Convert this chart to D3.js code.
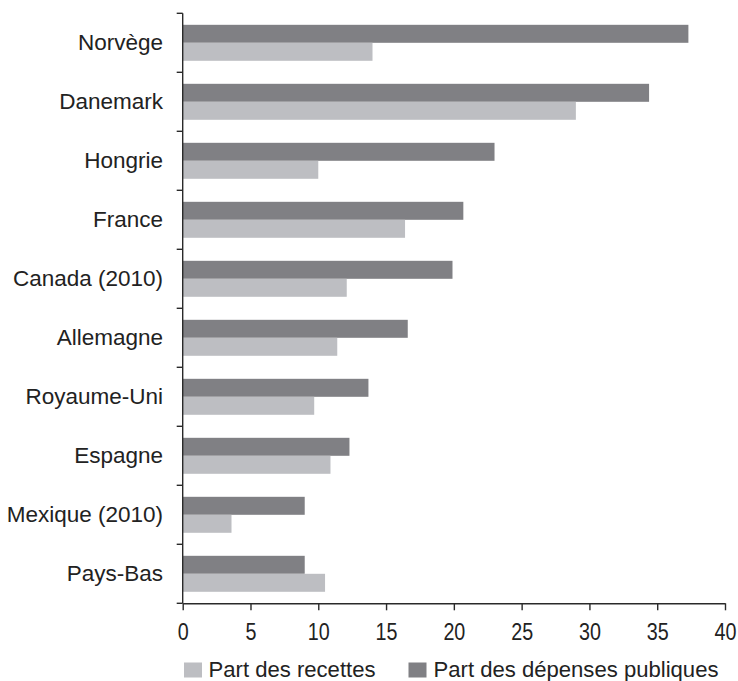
<!DOCTYPE html>
<html>
<head>
<meta charset="utf-8">
<script src="https://cdn.jsdelivr.net/npm/d3@7"></script>
<style>
  html, body { margin: 0; padding: 0; background: #fff; }
  svg { display: block; }
</style>
</head>
<body>
<svg id="chart" width="738" height="681"></svg>
<script>
const categories = ["Norvège", "Danemark", "Hongrie", "France", "Canada (2010)", "Allemagne", "Royaume-Uni", "Espagne", "Mexique (2010)", "Pays-Bas"];
const depenses = [37.3, 34.4, 23.0, 20.7, 19.9, 16.6, 13.7, 12.3, 9.0, 9.0];
const recettes = [14.0, 29.0, 10.0, 16.4, 12.1, 11.4, 9.7, 10.9, 3.6, 10.5];
const xTicks = [0, 5, 10, 15, 20, 25, 30, 35, 40];
const seriesNames = ["Part des recettes", "Part des dépenses publiques"];

const colDark = "#808084";
const colLight = "#bdbec2";
const axisCol = "#2a2a2a";
const font = "'Liberation Sans', Arial, sans-serif";

const svg = d3.select("#chart");
svg.append("rect").attr("width", 738).attr("height", 681).attr("fill", "#fff");

const x = d3.scaleLinear().domain([0, 40]).range([182.7, 725]);
const y = d3.scaleBand().domain(categories).range([13.3, 603.3]).padding(0);
const inner = d3.scaleBand().domain(["dep", "rec"]).range([0, y.bandwidth()]).paddingInner(0).paddingOuter(0.64);

const rows = categories.map((c, i) => ({ cat: c, dep: depenses[i], rec: recettes[i] }));

// bars
const g = svg.append("g");
g.selectAll("rect.dep").data(rows).join("rect")
  .attr("x", x(0)).attr("y", d => y(d.cat) + inner("dep"))
  .attr("width", d => x(d.dep) - x(0)).attr("height", inner.bandwidth())
  .attr("fill", colDark);
g.selectAll("rect.rec").data(rows).join("rect")
  .attr("x", x(0)).attr("y", d => y(d.cat) + inner("rec"))
  .attr("width", d => x(d.rec) - x(0)).attr("height", inner.bandwidth())
  .attr("fill", colLight);

// left axis: line + ticks at band boundaries
const left = svg.append("g");
left.append("line").attr("x1", x(0)).attr("x2", x(0))
  .attr("y1", y.range()[0]).attr("y2", y.range()[1])
  .attr("stroke", axisCol).attr("stroke-width", 1.4);
const bounds = categories.map(c => y(c)).concat([y.range()[1]]);
left.selectAll("line.t").data(bounds).join("line")
  .attr("x1", x(0) - 6).attr("x2", x(0)).attr("y1", d => d).attr("y2", d => d)
  .attr("stroke", axisCol).attr("stroke-width", 1.4);
left.selectAll("text").data(categories).join("text")
  .attr("x", 163).attr("y", d => y(d) + y.bandwidth() / 2 + 7.5)
  .attr("text-anchor", "end").attr("font-family", font).attr("font-size", 22.5)
  .attr("fill", "#222").text(d => d);

// bottom axis
const bottom = svg.append("g").attr("transform", `translate(0,${y.range()[1]})`)
  .call(d3.axisBottom(x).tickValues(xTicks).tickSize(7).tickSizeOuter(0).tickPadding(10).tickFormat(d3.format("d")));
bottom.select(".domain").attr("stroke", axisCol).attr("stroke-width", 1.4);
bottom.selectAll(".tick line").attr("stroke", axisCol).attr("stroke-width", 1.4);
bottom.selectAll(".tick text")
  .attr("font-family", font).attr("font-size", 23.5).attr("fill", "#222")
  .attr("y", 36.5).attr("dy", 0)
  .attr("transform", "scale(0.84,1)");

// legend
const legend = svg.append("g");
const legendItems = [
  { name: seriesNames[0], color: colLight, sx: 184, tx: 208.5 },
  { name: seriesNames[1], color: colDark, sx: 408.5, tx: 433.5 }
];
legend.selectAll("rect").data(legendItems).join("rect")
  .attr("x", d => d.sx).attr("y", 662.5).attr("width", 18).attr("height", 15)
  .attr("fill", d => d.color);
legend.selectAll("text").data(legendItems).join("text")
  .attr("x", d => d.tx).attr("y", 677).attr("font-family", font).attr("font-size", 22.1)
  .attr("fill", "#222").text(d => d.name);
</script>
</body>
</html>
